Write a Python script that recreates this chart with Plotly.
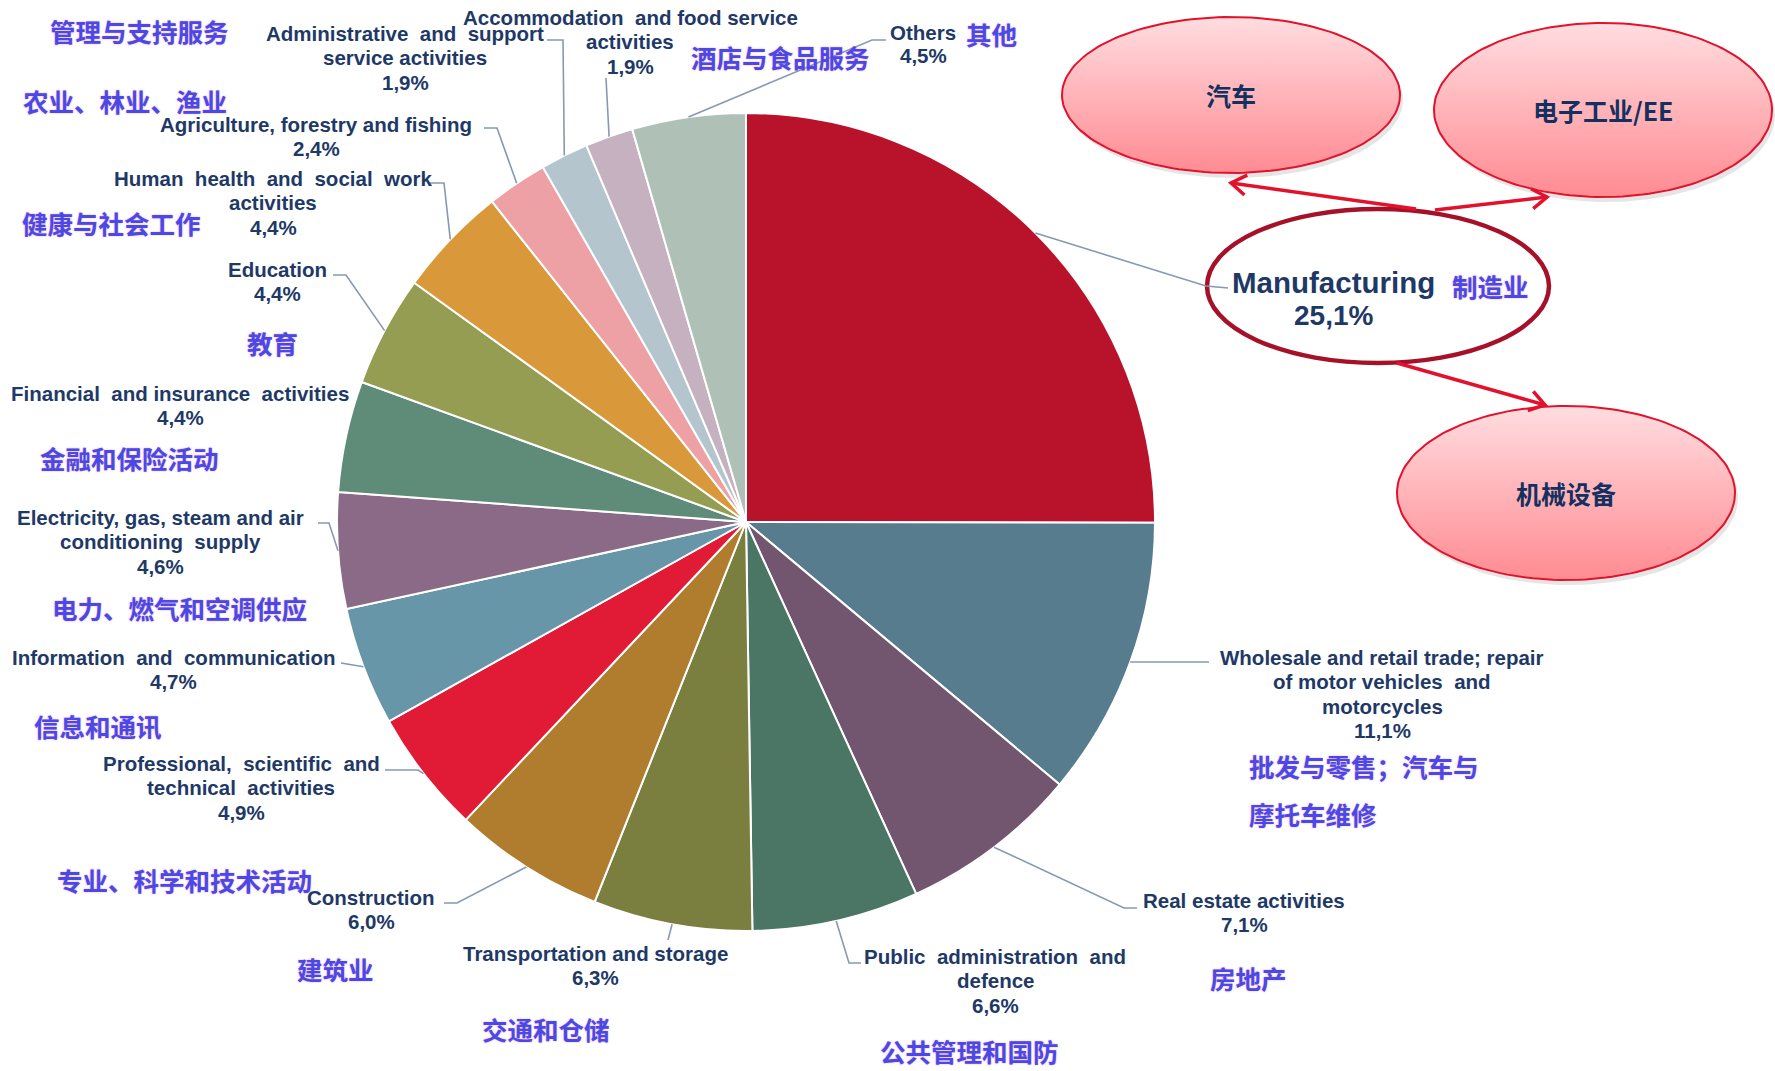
import math
import plotly.graph_objects as go

W, H = 1775, 1071

# ---------------- data ----------------
sectors = [
    "Manufacturing",
    "Wholesale and retail trade; repair of motor vehicles and motorcycles",
    "Real estate activities",
    "Public administration and defence",
    "Transportation and storage",
    "Construction",
    "Professional, scientific and technical activities",
    "Information and communication",
    "Electricity, gas, steam and air conditioning supply",
    "Financial and insurance activities",
    "Education",
    "Human health and social work activities",
    "Agriculture, forestry and fishing",
    "Administrative and support service activities",
    "Accommodation and food service activities",
    "Others",
]
shares = [25.1, 11.1, 7.1, 6.6, 6.3, 6.0, 4.9, 4.7, 4.6, 4.4, 4.4, 4.4, 2.4, 1.9, 1.9, 4.5]
sectors_cn = [
    "制造业", "批发与零售；汽车与摩托车维修", "房地产", "公共管理和国防", "交通和仓储",
    "建筑业", "专业、科学和技术活动", "信息和通讯", "电力、燃气和空调供应", "金融和保险活动",
    "教育", "健康与社会工作", "农业、林业、渔业", "管理与支持服务", "酒店与食品服务", "其他",
]
manufacturing_branches = ["汽车", "电子工业/EE", "机械设备"]
slice_colors = [
    "#B8132B", "#567C8D", "#72566F", "#4B7564", "#7A7E3E", "#B07C2D", "#E11A35", "#6896A9",
    "#8B6A87", "#5F8C79", "#959D52", "#D9983A", "#EDA1A4", "#B4C5CE", "#C5B1BF", "#AFC1B6",
]

# ---------------- layout constants (pixels) ----------------
PIE_CX, PIE_CY, PIE_R = 746, 522, 409
EN_COLOR = "#1E3966"
CN_COLOR = "#4A4AE2"
LEADER_COLOR = "#8799B2"
EN_FONT = "Liberation Sans, Arial, sans-serif"
CN_FONT = "Noto Sans CJK SC, sans-serif"
EN_SIZE = 20.5
CN_SIZE = 25.5
STEP = 24.5

# English label blocks: index -> (lines, center x, first line y)
en_blocks = {
    1: (["Wholesale and retail trade; repair", "of motor vehicles  and", "motorcycles"], 1382, 657),
    2: (["Real estate activities"], 1244, 900),
    3: (["Public  administration  and", "defence"], 995, 956),
    4: (["Transportation and storage"], 595, 953),
    5: (["Construction"], 371, 897),
    6: (["Professional,  scientific  and", "technical  activities"], 241, 763),
    7: (["Information  and  communication"], 173, 657),
    8: (["Electricity, gas, steam and air", "conditioning  supply"], 160, 517),
    9: (["Financial  and insurance  activities"], 180, 393),
    10: (["Education"], 277, 269),
    11: (["Human  health  and  social  work", "activities"], 273, 178),
    12: (["Agriculture, forestry and fishing"], 316, 124),
    13: (["Administrative  and  support", "service activities"], 405, 33),
    14: (["Accommodation  and food service", "activities"], 630, 17),
}
cn_pos = {
    2: (1248, 977), 3: (969, 1050), 4: (546, 1028), 5: (335, 968), 6: (184, 879),
    7: (98, 725), 8: (179, 607), 9: (129, 457), 10: (272, 342), 11: (111, 222),
    12: (125, 100), 13: (139, 30), 14: (780, 56), 15: (991, 33), 0: (1490, 285),
}
# leader line waypoints after the slice-edge start point
leader_pts = {
    0: [(1206, 286), (1228, 288)],
    1: [(1209, 662)],
    2: [(1124, 908), (1137, 908)],
    3: [(849, 963), (861, 963)],
    4: [(668, 940)],
    5: [(457, 903), (444, 903)],
    6: [(418, 770), (385, 770)],
    7: [(341, 663)],
    8: [(329, 523), (318, 523)],
    10: [(346, 275), (333, 275)],
    11: [(444, 183), (430, 183)],
    12: [(497, 128), (484, 128)],
    13: [(563, 40), (547, 40)],
    14: [(606, 78)],
    15: [(872, 40), (886, 40)],
}
branch_ellipses = [(1231, 95, 169, 78), (1603, 110, 169, 87), (1566, 493, 169, 87)]
manu_ellipse = (1378, 286, 171, 77)
arrows = [((1416, 209), (1231, 183)), ((1435, 210), (1547, 197)), ((1397, 363), (1545, 405))]
ARROW_RED = "#E3122C"

share_text = [f"{v:.1f}".replace(".", ",") + "%" for v in shares]

fig = go.Figure()

# ---- pie ----
fig.add_trace(go.Pie(
    values=shares, labels=sectors, sort=False, direction="clockwise", rotation=0,
    marker=dict(colors=slice_colors, line=dict(color="white", width=2)),
    textinfo="none", hoverinfo="label+percent", showlegend=False,
    domain=dict(x=[(PIE_CX - PIE_R) / W, (PIE_CX + PIE_R) / W],
                y=[1 - (PIE_CY + PIE_R) / H, 1 - (PIE_CY - PIE_R) / H]),
))


def ellipse_pts(cx, cy, rx, ry, n=160):
    ts = [2 * math.pi * i / n for i in range(n + 1)]
    return [cx + rx * math.cos(t) for t in ts], [cy + ry * math.sin(t) for t in ts]


# ---- pink ellipses (with soft shadow) ----
for (cx, cy, rx, ry) in branch_ellipses:
    xs, ys = ellipse_pts(cx + 3, cy + 5, rx, ry)
    fig.add_trace(go.Scatter(x=xs, y=ys, mode="lines", fill="toself",
                             fillcolor="rgba(0,0,0,0.10)", line=dict(width=0),
                             hoverinfo="skip", showlegend=False))
    xs, ys = ellipse_pts(cx, cy, rx, ry)
    fig.add_trace(go.Scatter(
        x=xs, y=ys, mode="lines", fill="toself",
        line=dict(color=ARROW_RED, width=2),
        fillgradient=dict(type="vertical", colorscale=[[0, "#FFDDE0"], [1, "#FF8B92"]],
                          start=cy - ry, stop=cy + ry),
        hoverinfo="skip", showlegend=False))

shapes = []
annotations = []

# ---- manufacturing ellipse ----
cx, cy, rx, ry = manu_ellipse
shapes.append(dict(type="circle", xref="x", yref="y", x0=cx - rx, x1=cx + rx, y0=cy - ry, y1=cy + ry,
                   line=dict(color="#A6112A", width=4.5), fillcolor="rgba(0,0,0,0)"))

# ---- arrows ----
for (sx, sy), (tx, ty) in arrows:
    dx, dy = tx - sx, ty - sy
    L = math.hypot(dx, dy)
    ux, uy = dx / L, dy / L
    nx, ny = -uy, ux
    hl, hw = 15, 10
    p1 = (tx - hl * ux + hw * nx, ty - hl * uy + hw * ny)
    p2 = (tx - hl * ux - hw * nx, ty - hl * uy - hw * ny)
    shapes.append(dict(type="path", xref="x", yref="y",
                       path=f"M{sx},{sy} L{tx},{ty}", line=dict(color=ARROW_RED, width=3.5)))
    shapes.append(dict(type="path", xref="x", yref="y",
                       path=f"M{p1[0]},{p1[1]} L{tx},{ty} L{p2[0]},{p2[1]}",
                       line=dict(color=ARROW_RED, width=3.5)))

# ---- leader lines from slice mid-angles ----
total = sum(shares)
cum = 0.0
mids = []
for v in shares:
    mids.append((cum + v / 2) / total * 360.0)
    cum += v
for i, pts in leader_pts.items():
    a = math.radians(mids[i])
    sx, sy = PIE_CX + PIE_R * math.sin(a), PIE_CY - PIE_R * math.cos(a)
    path = f"M{sx:.1f},{sy:.1f} " + " ".join(f"L{x},{y}" for x, y in pts)
    shapes.append(dict(type="path", xref="x", yref="y", path=path,
                       line=dict(color=LEADER_COLOR, width=1.6)))


def en_text(text, x, y, size=EN_SIZE, xanchor="center"):
    annotations.append(dict(text=text, x=x, y=y, xref="x", yref="y", showarrow=False,
                            xanchor=xanchor, yanchor="middle", borderpad=0,
                            font=dict(family=EN_FONT, size=size, color=EN_COLOR, weight="bold")))


def cn_text(text, x, y, size=CN_SIZE, xanchor="center", color=CN_COLOR, glow=True):
    annotations.append(dict(text=text, x=x, y=y, xref="x", yref="y", showarrow=False,
                            xanchor=xanchor, yanchor="middle", borderpad=0,
                            font=dict(family=CN_FONT, size=size, color=color, weight="bold",
                                      shadow="0px 0px 2px rgba(215,90,235,0.6)" if glow else "none")))


for i, (lines, x, y0) in en_blocks.items():
    for k, ln in enumerate(lines):
        en_text(ln, x, y0 + k * STEP)
    en_text(share_text[i], x, y0 + len(lines) * STEP)

# Manufacturing
en_text(sectors[0], 1333, 282, size=29.5)
en_text(share_text[0], 1333, 315, size=28)
# Others
en_text(sectors[15], 889, 32, xanchor="left")
en_text(share_text[15], 923, 55)

for i, (x, y) in cn_pos.items():
    cn_text(sectors_cn[i], x, y)
ws_cn = sectors_cn[1]
cn_text(ws_cn[:9], 1248, 765, xanchor="left")
cn_text(ws_cn[9:], 1248, 813, xanchor="left")

for name, (cx, cy, rx, ry) in zip(manufacturing_branches, branch_ellipses):
    cn_text(name, cx, cy, size=25, color="#13305F", glow=False)

fig.update_layout(
    width=W, height=H, margin=dict(l=0, r=0, t=0, b=0),
    paper_bgcolor="white", plot_bgcolor="rgba(0,0,0,0)",
    xaxis=dict(range=[0, W], visible=False, domain=[0, 1], fixedrange=True),
    yaxis=dict(range=[H, 0], visible=False, domain=[0, 1], fixedrange=True),
    shapes=shapes, annotations=annotations, showlegend=False,
)

fig.write_html("out.html", config={"displayModeBar": False},
               post_script="document.body.style.margin='0px';")
